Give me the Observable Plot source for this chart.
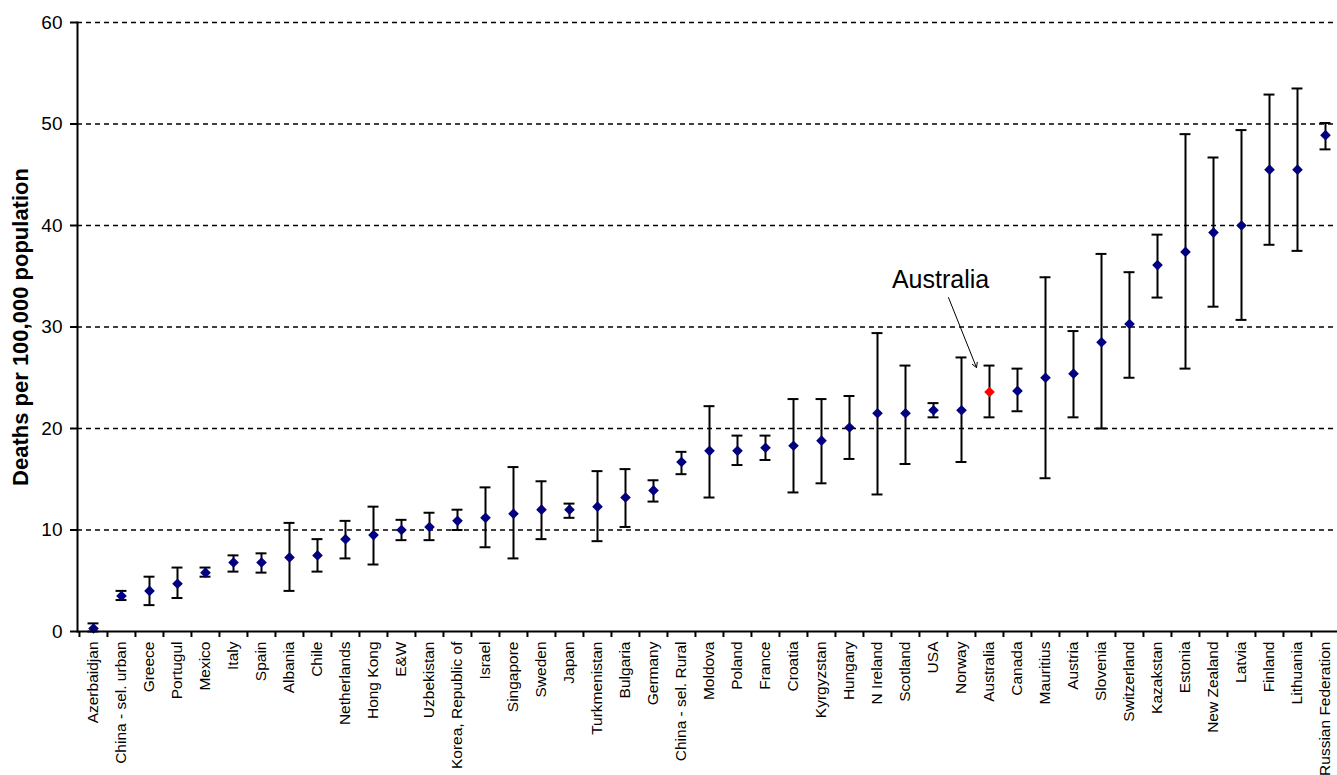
<!DOCTYPE html>
<html><head><meta charset="utf-8">
<script src="https://cdn.jsdelivr.net/npm/d3@7"></script>
<script src="https://cdn.jsdelivr.net/npm/@observablehq/plot@0.6"></script>
<style>body{margin:0;background:#fff} svg{display:block}</style>
</head><body><div id="chart"></div>
<script>
const countries = ["Azerbaidjan","China - sel. urban","Greece","Portugul","Mexico","Italy","Spain","Albania","Chile","Netherlands","Hong Kong","E&W","Uzbekistan","Korea, Republic of","Israel","Singapore","Sweden","Japan","Turkmenistan","Bulgaria","Germany","China - sel. Rural","Moldova","Poland","France","Croatia","Kyrgyzstan","Hungary","N Ireland","Scotland","USA","Norway","Australia","Canada","Mauritius","Austria","Slovenia","Switzerland","Kazakstan","Estonia","New Zealand","Latvia","Finland","Lithuania","Russian Federation"];
const rate  = [0.3,3.5,4.0,4.7,5.8,6.8,6.8,7.3,7.5,9.1,9.5,10.0,10.3,10.9,11.2,11.6,12.0,12.0,12.3,13.2,13.9,16.7,17.8,17.8,18.1,18.3,18.8,20.1,21.5,21.5,21.8,21.8,23.6,23.7,25.0,25.4,28.5,30.3,36.1,37.4,39.3,40.0,45.5,45.5,48.9];
const lower = [0.0,3.1,2.6,3.3,5.4,5.9,5.8,4.0,5.9,7.2,6.6,9.0,9.0,10.0,8.3,7.2,9.1,11.2,8.9,10.3,12.8,15.5,13.2,16.4,16.9,13.7,14.6,17.0,13.5,16.5,21.1,16.7,21.1,21.7,15.1,21.1,20.0,25.0,32.9,25.9,32.0,30.7,38.1,37.5,47.5];
const upper = [0.8,4.0,5.4,6.3,6.3,7.5,7.7,10.7,9.1,10.9,12.3,11.0,11.7,12.0,14.2,16.2,14.8,12.6,15.8,16.0,14.9,17.7,22.2,19.3,19.3,22.9,22.9,23.2,29.4,26.2,22.5,27.0,26.2,25.9,34.9,29.6,37.2,35.4,39.1,49.0,46.7,49.4,52.9,53.5,50.1];
const highlight = "Australia";
const yTicks = [0,10,20,30,40,50,60];
const gridValues = [10,20,30,40,50,60];
const yLabel = "Deaths per 100,000 population";
const annotation = [{label:"Australia", country:"Australia", labelY:34.6, fromCountry:"Norway", fromY:32.9, toY:26.0}];

const data = countries.map((c,i)=>({country:c, rate:rate[i], lo:lower[i], hi:upper[i]}));
const bandHalf = (1341-77)/countries.length/2;
const capInset = bandHalf - 5.5;

const chart = Plot.plot({
  width:1337, height:775,
  marginLeft:77, marginTop:22, marginBottom:144, marginRight:0,
  x:{type:"band", domain:countries, range:[77,1341], padding:0, label:null},
  y:{domain:[0,60], label:null},
  style:{fontFamily:"'Liberation Sans', Arial, sans-serif", fontSize:"15px", color:"#000", background:"#fff"},
  marks:[
    Plot.ruleY(gridValues, {stroke:"#000", strokeWidth:1.5, strokeDasharray:"5,4"}),
    Plot.axisY({ticks:yTicks, tickSize:7, tickPadding:8, fontSize:19, label:null, strokeWidth:2}),
    Plot.axisX({tickSize:6, text:null, label:null, dx:-bandHalf, strokeWidth:2}),
    Plot.axisX({tickSize:0, tickRotate:-90, tickPadding:10, fontSize:15.5, label:null}),
    Plot.text([yLabel], {frameAnchor:"left", textAnchor:"middle", dx:-57, rotate:-90, fontSize:22, fontWeight:"bold"}),
    Plot.ruleX(data, {x:"country", y1:"lo", y2:"hi", stroke:"#000", strokeWidth:2}),
    Plot.tickY(data, {x:"country", y:"lo", insetLeft:capInset, insetRight:capInset, stroke:"#000", strokeWidth:2}),
    Plot.tickY(data, {x:"country", y:"hi", insetLeft:capInset, insetRight:capInset, stroke:"#000", strokeWidth:2}),
    Plot.dot(data.filter(d=>d.country!==highlight), {x:"country", y:"rate", symbol:"diamond2", r:4.8, fill:"#000080", stroke:null}),
    Plot.dot(data.filter(d=>d.country===highlight), {x:"country", y:"rate", symbol:"diamond2", r:4.8, fill:"#ff0000", stroke:null}),
    Plot.ruleY([0], {stroke:"#000", strokeWidth:2}),
    Plot.frame({anchor:"left", stroke:"#000", strokeWidth:2}),
    Plot.text(annotation, {x:"country", y:"labelY", text:"label", dx:-49, fontSize:25, fill:"#000"}),
    Plot.arrow(annotation, {x1:"fromCountry", y1:"fromY", x2:"country", y2:"toY", dx:-13, stroke:"#000", strokeWidth:1, headLength:8})
  ]
});
document.getElementById("chart").append(chart);
</script>
</body></html>
